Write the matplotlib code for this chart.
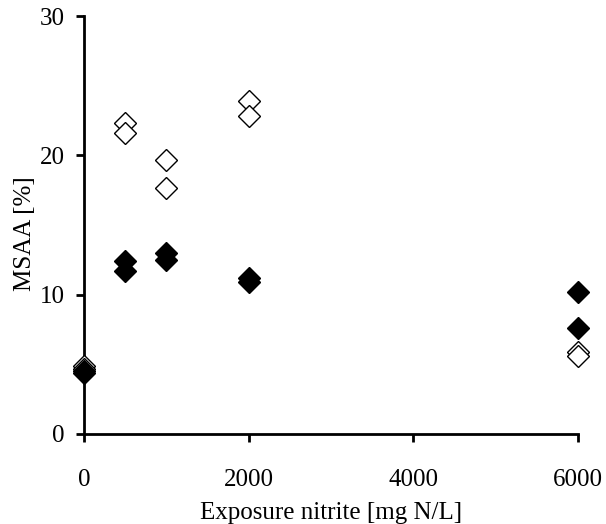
import matplotlib
matplotlib.use('Agg')
import matplotlib.pyplot as plt

# exposure nitrite [mg N/L] and MSAA [%]
x_open = [0, 0, 500, 500, 1000, 1000, 2000, 2000, 6000, 6000]
y_open = [4.9, 4.7, 22.3, 21.6, 19.7, 17.7, 23.9, 22.8, 5.9, 5.6]
x_filled = [0, 0, 500, 500, 1000, 1000, 2000, 2000, 6000, 6000]
y_filled = [4.5, 4.4, 12.4, 11.7, 13.0, 12.5, 11.2, 10.9, 10.2, 7.6]

plt.rcParams['font.family'] = 'Liberation Serif'
plt.rcParams['font.size'] = 18

fig = plt.figure(figsize=(6.06, 5.24), dpi=100)
ax = fig.add_axes([0.1386, 0.1718, 0.8152, 0.7972])

ax.plot(x_open, y_open, 'D', ms=11, mfc='white', mec='black', mew=1.0, clip_on=False, zorder=3)
ax.plot(x_filled, y_filled, 'D', ms=11, mfc='black', mec='black', clip_on=False, zorder=4)

ax.set_xlim(0, 6000)
ax.set_ylim(0, 30)
ax.set_xticks([0, 2000, 4000, 6000])
ax.set_yticks([0, 10, 20, 30])
ax.spines['top'].set_visible(False)
ax.spines['right'].set_visible(False)
ax.spines['left'].set_linewidth(2)
ax.spines['bottom'].set_linewidth(2)
ax.tick_params(direction='out', length=6, width=2)
ax.tick_params(axis='x', pad=19)
ax.tick_params(axis='y', pad=8)
ax.set_xlabel('Exposure nitrite [mg N/L]', labelpad=8)
ax.set_ylabel('MSAA [%]')
ax.yaxis.set_label_coords(-0.097, 0.48)

fig.savefig('out.png', dpi=100)
